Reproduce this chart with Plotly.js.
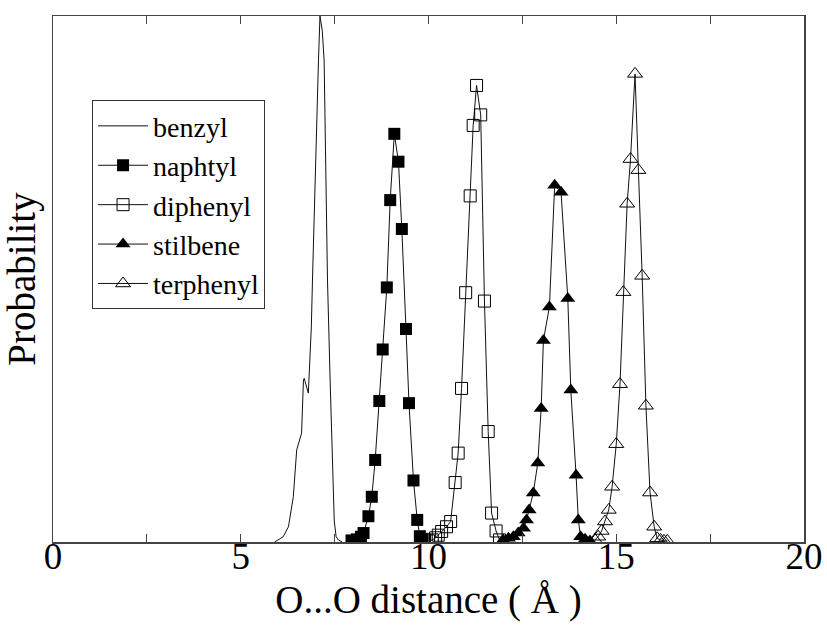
<!DOCTYPE html>
<html>
<head>
<meta charset="utf-8">
<script src="https://cdn.plot.ly/plotly-3.0.1.min.js"></script>
<style>html,body{margin:0;padding:0;background:#fff;}#chart{width:827px;height:625px;}</style>
</head>
<body>
<div id="chart"></div>
<script>
// Series names
const seriesNames = ["benzyl", "naphtyl", "diphenyl", "stilbene", "terphenyl"];

// benzyl (line only)
const benzylX = [5.90, 6.00, 6.13, 6.27, 6.40, 6.49, 6.62, 6.67, 6.69, 6.80, 6.84, 6.88, 6.91, 7.00, 7.07, 7.11, 7.17, 7.22, 7.26, 7.31, 7.38, 7.44, 7.49, 7.54, 7.60, 7.70];
const benzylY = [0, 0.004, 0.010, 0.029, 0.086, 0.175, 0.207, 0.308, 0.311, 0.283, 0.34, 0.409, 0.498, 0.758, 0.916, 1.0, 0.973, 0.916, 0.758, 0.498, 0.308, 0.148, 0.040, 0.010, 0.004, 0];

// naphtyl (filled squares)
const naphtylX = [7.95, 8.09, 8.20, 8.27, 8.40, 8.49, 8.58, 8.69, 8.78, 8.89, 8.98, 9.09, 9.20, 9.29, 9.40, 9.48, 9.60, 9.70, 9.77, 9.84, 9.91];
const naphtylY = [0.003, 0.005, 0.010, 0.017, 0.049, 0.086, 0.156, 0.268, 0.366, 0.484, 0.650, 0.776, 0.723, 0.595, 0.405, 0.264, 0.117, 0.042, 0.011, 0.006, 0.004];

// diphenyl (open squares)
const diphenylX = [10.00, 10.10, 10.19, 10.26, 10.35, 10.48, 10.59, 10.71, 10.79, 10.88, 10.99, 11.11, 11.19, 11.28, 11.39, 11.49, 11.59, 11.68, 11.80, 11.89];
const diphenylY = [0.002, 0.004, 0.008, 0.013, 0.020, 0.029, 0.039, 0.113, 0.169, 0.292, 0.474, 0.658, 0.792, 0.868, 0.812, 0.458, 0.210, 0.055, 0.021, 0.004];

// stilbene (filled triangles)
const stilbeneX = [11.99, 12.13, 12.26, 12.39, 12.53, 12.61, 12.68, 12.79, 12.91, 13.00, 13.06, 13.22, 13.36, 13.53, 13.71, 13.79, 13.93, 13.99, 14.05, 14.17, 14.30];
const stilbeneY = [0.004, 0.007, 0.010, 0.017, 0.026, 0.042, 0.061, 0.093, 0.150, 0.254, 0.383, 0.447, 0.678, 0.665, 0.463, 0.289, 0.127, 0.042, 0.010, 0.005, 0.002];

// terphenyl (open triangles)
const terphenylX = [14.43, 14.52, 14.61, 14.70, 14.80, 14.89, 15.00, 15.10, 15.19, 15.29, 15.38, 15.50, 15.59, 15.69, 15.79, 15.90, 16.01, 16.09, 16.18, 16.27, 16.36];
const terphenylY = [0.004, 0.010, 0.021, 0.039, 0.061, 0.105, 0.186, 0.300, 0.475, 0.643, 0.728, 0.890, 0.707, 0.506, 0.259, 0.094, 0.029, 0.007, 0.004, 0.002, 0.002];

// x-axis ticks
const xTickVals = [0, 2.5, 5, 7.5, 10, 12.5, 15, 17.5, 20];
const xTickText = ["0", "", "5", "", "10", "", "15", "", "20"];

const FONT = "'Liberation Serif', 'Times New Roman', serif";
const lineStyle = {color: "#111", width: 1};

const traces = [
  {x: benzylX, y: benzylY, name: seriesNames[0], mode: "lines", line: lineStyle},
  {x: naphtylX, y: naphtylY, name: seriesNames[1], mode: "lines+markers", line: lineStyle,
   marker: {symbol: "square", size: 12, color: "#000"}},
  {x: diphenylX, y: diphenylY, name: seriesNames[2], mode: "lines+markers", line: lineStyle,
   marker: {symbol: "square-open", size: 12, color: "#000", line: {width: 1}}},
  {x: stilbeneX, y: stilbeneY, name: seriesNames[3], mode: "lines+markers", line: lineStyle,
   marker: {symbol: "triangle-up", size: 13, color: "#000"}},
  {x: terphenylX, y: terphenylY, name: seriesNames[4], mode: "lines+markers", line: lineStyle,
   marker: {symbol: "triangle-up-open", size: 13, color: "#000", line: {width: 1}}}
];

const layout = {
  width: 827, height: 625,
  margin: {l: 53, r: 23, t: 16, b: 83},
  paper_bgcolor: "#fff", plot_bgcolor: "#fff",
  font: {family: FONT, color: "#000", size: 30},
  showlegend: true,
  legend: {
    x: 0.052, y: 0.84, xanchor: "left", yanchor: "top",
    bgcolor: "#fff", bordercolor: "#333", borderwidth: 1,
    font: {family: FONT, size: 28, color: "#000"},
    itemwidth: 50, tracegroupgap: 0
  },
  xaxis: {
    range: [0, 20], showgrid: false, zeroline: false,
    tickmode: "array", tickvals: xTickVals, ticktext: xTickText,
    ticks: "inside", ticklen: 8, tickcolor: "#444", tickwidth: 1,
    ticklabelstandoff: -19,
    showline: true, linecolor: "#444", linewidth: 1.5, mirror: "allticks",
    tickfont: {family: FONT, size: 37, color: "#000"},
    title: {text: "O...O distance ( Å )", font: {family: FONT, size: 39, color: "#000"}, standoff: 10}
  },
  yaxis: {
    range: [0, 1.0], showgrid: false, zeroline: false,
    showticklabels: false, ticks: "",
    showline: true, linecolor: "#444", linewidth: 1.5, mirror: true,
    title: {text: "Probability", font: {family: FONT, size: 39, color: "#000"}, standoff: 4}
  }
};

Plotly.newPlot("chart", traces, layout, {displayModeBar: false, staticPlot: true});
</script>
</body>
</html>
